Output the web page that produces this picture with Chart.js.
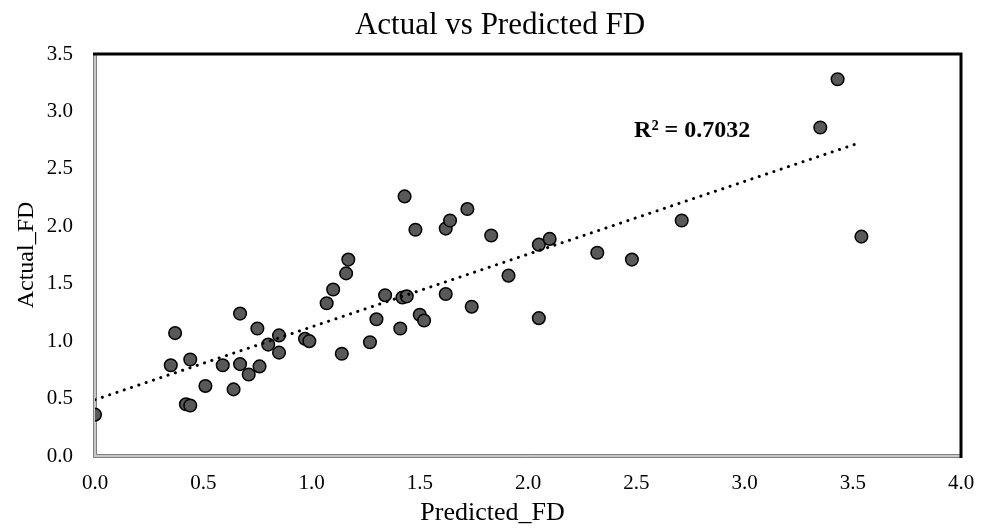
<!DOCTYPE html>
<html>
<head>
<meta charset="utf-8">
<script src="https://cdn.jsdelivr.net/npm/chart.js@4"></script>
<style>
  body { margin: 0; background: #fff; }
</style>
</head>
<body>
<canvas id="chart" width="981" height="529"></canvas>
<script>
// values
const predictedFD = [
  0.00, 0.35, 0.37, 0.42, 0.44, 0.44, 0.51, 0.59, 0.64, 0.67,
  0.67, 0.71, 0.75, 0.76, 0.80, 0.85, 0.85, 0.97, 0.99, 1.07,
  1.10, 1.14, 1.16, 1.17, 1.27, 1.30, 1.34, 1.41, 1.42, 1.43,
  1.44, 1.48, 1.50, 1.52, 1.62, 1.62, 1.64, 1.72, 1.74, 1.83,
  1.91, 2.05, 2.05, 2.10, 2.32, 2.48, 2.71, 3.35, 3.43, 3.54
];
const actualFD = [
  0.36, 0.79, 1.07, 0.45, 0.44, 0.84, 0.61, 0.79, 0.58, 1.24,
  0.80, 0.71, 1.11, 0.78, 0.97, 1.05, 0.90, 1.02, 1.00, 1.33,
  1.45, 0.89, 1.59, 1.71, 0.99, 1.19, 1.40, 1.11, 1.38, 2.26,
  1.39, 1.97, 1.23, 1.18, 1.98, 1.41, 2.05, 2.15, 1.30, 1.92,
  1.57, 1.84, 1.20, 1.89, 1.77, 1.71, 2.05, 2.86, 3.28, 1.91
];
const trendX = [0, 3.52];
const trendY = [0.49, 2.72];
const rSquaredText = 'R² = 0.7032';
const rSquaredAt = { x: 2.49, y: 2.83 };
const xTitle = 'Predicted_FD';

const serif = '"Liberation Serif", "Times New Roman", serif';

const framePlugin = {
  id: 'frame',
  afterLayout(chart) {
    // title in the reference sits a bit right of the canvas centre
    if (chart.titleBlock) chart.titleBlock.left = 39;
  },
  beforeDatasetsDraw(chart) {
    const { ctx, chartArea: a } = chart;
    ctx.save();
    // left and bottom: grey double line
    ctx.fillStyle = '#c8c8c8';
    ctx.fillRect(a.left - 2, a.top, 4, a.bottom - a.top + 2);
    ctx.fillRect(a.left - 2, a.bottom - 2, a.right - a.left + 2, 4);
    ctx.strokeStyle = '#7f7f7f';
    ctx.lineWidth = 1;
    ctx.beginPath();
    ctx.moveTo(a.left - 1.5, a.top);
    ctx.lineTo(a.left - 1.5, a.bottom + 1.5);
    ctx.lineTo(a.right, a.bottom + 1.5);
    ctx.moveTo(a.left + 1.5, a.top);
    ctx.lineTo(a.left + 1.5, a.bottom - 1.5);
    ctx.lineTo(a.right, a.bottom - 1.5);
    ctx.stroke();
    // top and right: black
    ctx.strokeStyle = '#000';
    ctx.lineWidth = 3;
    ctx.beginPath();
    ctx.moveTo(a.left - 2, a.top);
    ctx.lineTo(a.right, a.top);
    ctx.lineTo(a.right, a.bottom + 2);
    ctx.stroke();
    ctx.restore();
  },
  afterDatasetsDraw(chart) {
    const { ctx, scales, width } = chart;
    ctx.save();
    ctx.fillStyle = '#000';
    ctx.textBaseline = 'middle';
    ctx.font = 'bold 24px ' + serif;
    ctx.textAlign = 'left';
    ctx.fillText(rSquaredText, scales.x.getPixelForValue(rSquaredAt.x), scales.y.getPixelForValue(rSquaredAt.y));
    // x axis title: centred on the canvas like the reference, not on the plot area
    ctx.font = '26px ' + serif;
    ctx.textAlign = 'center';
    ctx.fillText(xTitle, width / 2 + 2, scales.x.bottom - 15.6);
    ctx.restore();
  }
};

new Chart(document.getElementById('chart'), {
  type: 'scatter',
  data: {
    datasets: [
      {
        type: 'line',
        data: trendX.map((x, i) => ({ x: x, y: trendY[i] })),
        borderColor: '#000',
        borderWidth: 3,
        borderDash: [0.1, 7.6],
        borderCapStyle: 'round',
        pointRadius: 0,
        fill: false,
        order: 0
      },
      {
        data: predictedFD.map((x, i) => ({ x: x, y: actualFD[i] })),
        backgroundColor: '#595959',
        borderColor: '#000',
        borderWidth: 1.5,
        pointRadius: 6.3,
        pointHoverRadius: 6.3,
        order: 1
      }
    ]
  },
  options: {
    responsive: false,
    animation: false,
    layout: { padding: { left: 0, right: 20, top: 0, bottom: 0 } },
    plugins: {
      legend: { display: false },
      tooltip: { enabled: false },
      title: {
        display: true,
        text: 'Actual vs Predicted FD',
        color: '#000',
        font: { family: serif, size: 31, weight: 'normal' },
        padding: { top: 7.4, bottom: 9.4 }
      }
    },
    scales: {
      x: {
        type: 'linear',
        min: 0,
        max: 4,
        afterFit: (s) => { s.height = 73; s.paddingLeft = 0; s.paddingRight = 0; },
        grid: { display: false, drawTicks: false },
        border: { display: false },
        ticks: {
          stepSize: 0.5,
          padding: 15,
          color: '#000',
          font: { family: serif, size: 21 },
          callback: (v) => v.toFixed(1)
        },
        title: { display: false }
      },
      y: {
        type: 'linear',
        min: 0,
        max: 3.5,
        afterFit: (s) => { s.width = 95; },
        grid: { display: false, drawTicks: false },
        border: { display: false },
        ticks: {
          stepSize: 0.5,
          padding: 22,
          color: '#000',
          font: { family: serif, size: 21 },
          callback: (v) => v.toFixed(1)
        },
        title: {
          display: true,
          text: 'Actual_FD',
          color: '#000',
          font: { family: serif, size: 24 },
          padding: { top: 12, bottom: 0 }
        }
      }
    }
  },
  plugins: [framePlugin]
});
</script>
</body>
</html>
